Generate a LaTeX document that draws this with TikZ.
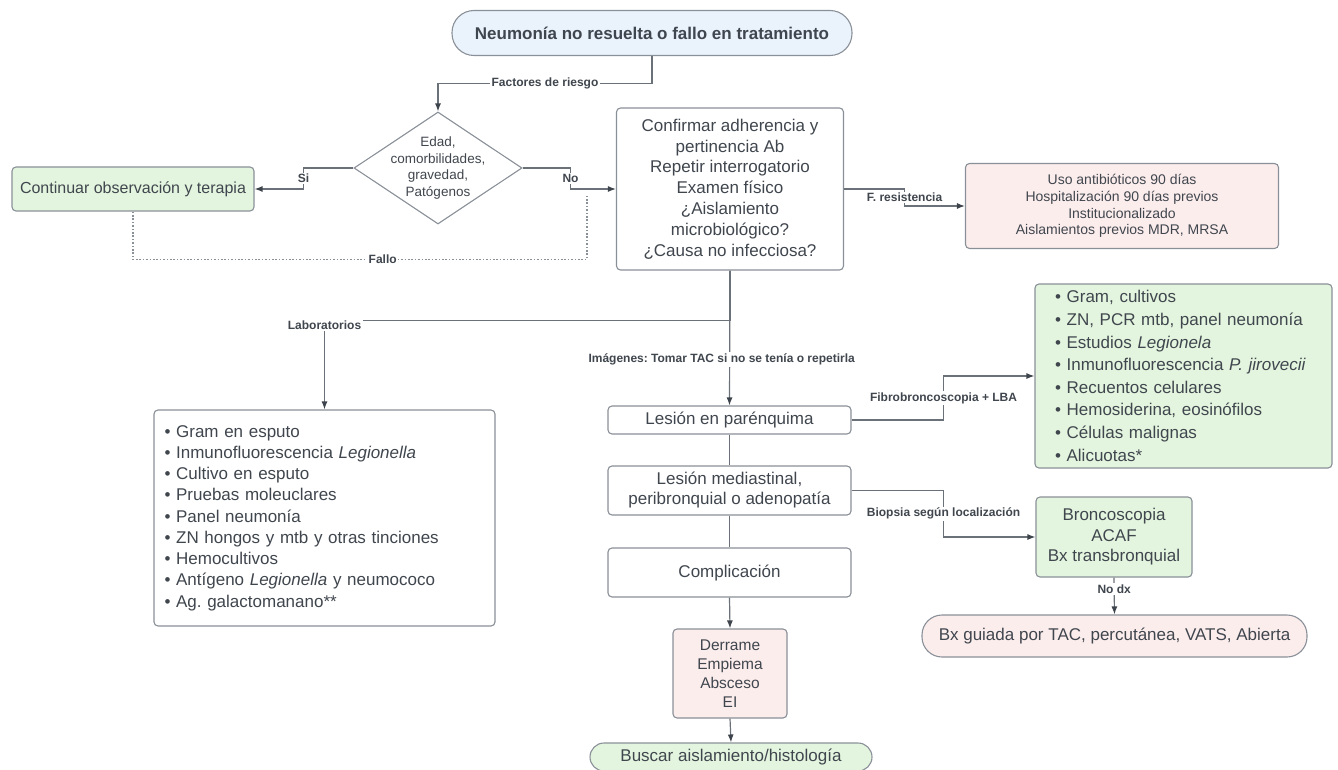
\documentclass[tikz,border=0pt]{standalone}
\usepackage{fontspec}
\setmainfont{Liberation Sans}
\usetikzlibrary{
  arrows.meta,
  positioning,
  shapes.geometric
}
\frenchspacing
\definecolor{lineGray}{HTML}{8A9098}
\definecolor{connGray}{HTML}{6B7178}
\definecolor{tipGray}{HTML}{3E444C}
\definecolor{txtGray}{HTML}{40464E}
\definecolor{startFill}{HTML}{EAF2FC}
\definecolor{okFill}{HTML}{E3F5DE}
\definecolor{riskFill}{HTML}{FCEDED}
\newcommand{\bitem}[1]{\textbullet\ #1}
\tikzset{
  box/.style={
    draw=lineGray,
    fill=#1,
    rounded corners=4pt,
    line width=1.1pt,
    align=center,
    text=txtGray,
    inner sep=0pt,
    font=\fontsize{17}{20.5}\selectfont
  },
  box/.default=white,
  pill/.style={box=#1, rounded corners=14pt},
  pill/.default=white,
  arr/.style={-{Latex[length=8pt,width=6pt,color=tipGray]}, line width=1.2pt, draw=connGray},
  plain/.style={line width=1.2pt, draw=connGray},
  fallback/.style={line width=1.4pt, draw=lineGray, dash pattern=on 1.6pt off 1.8pt},
  lbl/.style={font=\fontsize{12}{14}\selectfont\bfseries, text=txtGray, fill=white, inner sep=1.5pt}
}

\begin{document}
\begin{tikzpicture}[x=1pt, y=-1pt]
\useasboundingbox (0,0) rectangle (1338,770);

% --- Entry and decision ---
\node[pill=startFill, rounded corners=22pt, minimum width=400pt, minimum height=45pt,
      font=\fontsize{17}{20.5}\selectfont\bfseries] (start) at (652,33)
  {Neumonía no resuelta o fallo en tratamiento};

\node[diamond, draw=lineGray, fill=white, line width=1.1pt, inner sep=0pt,
      minimum width=168pt, minimum height=112pt,
      label={[font=\fontsize{13.5}{16.7}\selectfont, text=txtGray, align=center]center:{Edad,\\comorbilidades,\\gravedad,\\Patógenos}}]
  (risk) at (438,168) {};

\node[box=okFill, minimum width=242pt, minimum height=44pt,
      font=\fontsize{16}{19}\selectfont] (cont) at (133,189)
  {Continuar observación y terapia};

\node[box, minimum width=227pt, minimum height=162pt,
      font=\fontsize{17}{20.8}\selectfont] (confirm) at (730,189) {
  Confirmar adherencia y\\
  pertinencia Ab\\
  Repetir interrogatorio\\
  Examen físico\\
  ¿Aislamiento\\
  microbiológico?\\
  ¿Causa no infecciosa?
};

\node[box=riskFill, minimum width=313pt, minimum height=85pt,
      font=\fontsize{14}{16.7}\selectfont] (resist) at (1122,206) {
  Uso antibióticos 90 días\\
  Hospitalización 90 días previos\\
  Institucionalizado\\
  Aislamientos previos MDR, MRSA
};

% --- Work-up ---
\node[box, align=left, text width=320pt, inner xsep=10.5pt, minimum height=216pt,
      font=\fontsize{17}{21.25}\selectfont] (labs) at (324.5,518) {
  \bitem{Gram en esputo}\\
  \bitem{Inmunofluorescencia \textit{Legionella}}\\
  \bitem{Cultivo en esputo}\\
  \bitem{Pruebas moleuclares}\\
  \bitem{Panel neumonía}\\
  \bitem{ZN hongos y mtb y otras tinciones}\\
  \bitem{Hemocultivos}\\
  \bitem{Antígeno \textit{Legionella} y neumococo}\\
  \bitem{Ag. galactomanano**}
};

\node[box, minimum width=243pt, minimum height=28pt] (paren) at (729.5,420)
  {Lesión en parénquima};
\node[box, minimum width=243pt, minimum height=49pt,
      font=\fontsize{17}{20}\selectfont] (medi) at (729.5,490.5)
  {Lesión mediastinal,\\peribronquial o adenopatía};
\node[box, minimum width=243pt, minimum height=49pt] (compl) at (729.5,572.5)
  {Complicación};

\node[box=riskFill, minimum width=114pt, minimum height=89pt,
      font=\fontsize{15.5}{19}\selectfont] (derrame) at (730,673.5)
  {Derrame\\Empiema\\Absceso\\EI};
\node[pill=okFill, minimum width=282pt, minimum height=28pt] (buscar) at (731,757)
  {Buscar aislamiento/histología};

\node[box=okFill, align=left, text width=257pt, inner xsep=20pt, minimum height=184pt,
      font=\fontsize{17}{22.6}\selectfont] (lba) at (1183.5,376) {
  \bitem{Gram, cultivos}\\
  \bitem{ZN, PCR mtb, panel neumonía}\\
  \bitem{Estudios \textit{Legionela}}\\
  \bitem{Inmunofluorescencia \textit{P. jirovecii}}\\
  \bitem{Recuentos celulares}\\
  \bitem{Hemosiderina, eosinófilos}\\
  \bitem{Células malignas}\\
  \bitem{Alicuotas*}
};

\node[box=okFill, minimum width=156pt, minimum height=80pt] (bronco) at (1114,537)
  {Broncoscopia\\ACAF\\Bx transbronquial};
\node[pill=riskFill, rounded corners=20pt, minimum width=385pt, minimum height=42pt]
  (bxpill) at (1114.5,636) {Bx guiada por TAC, percutánea, VATS, Abierta};

% --- Connectors ---
\draw[arr] (start.south) -- ++(0,27.5) -| (risk.north)
  node[lbl, pos=0.25] {Factores de riesgo};
\draw[arr] (risk.west) -- ++(-50,0) |- (cont.east) node[lbl, pos=0.25] {Si};
\draw[arr] (risk.east) -- ++(48,0) |- (confirm.west) node[lbl, pos=0.25] {No};

\coordinate (falloend) at (587,194);
\draw[fallback] (cont.south) -- ++(0,48) -| (falloend)
  node[lbl, pos=0.275] {Fallo};

\draw[arr] (confirm.east) -- ++(60.5,0) |- (resist.west)
  node[lbl, pos=0.25] {F. resistencia};

\draw[arr] (confirm.south) -- ++(0,50) -| (labs.north)
  node[lbl, pos=0.5, yshift=-5pt] {Laboratorios};
\draw[arr] (confirm.south) -- (paren.north)
  node[lbl, pos=0.66, xshift=-8pt] {Imágenes: Tomar TAC si no se tenía o repetirla};

\draw[plain] (paren.south) -- (medi.north);
\draw[plain] (medi.south) -- (compl.north);
\draw[arr] (compl.south) -- (derrame.north);
\draw[arr] (derrame.south) -- (buscar.north);

\draw[arr] (paren.east) -- ++(92,0) |- (lba.west)
  node[lbl, pos=0.25] {Fibrobroncoscopia + LBA};
\draw[arr] (medi.east) -- ++(92,0) |- (bronco.west)
  node[lbl, pos=0.25] {Biopsia según localización};
\draw[arr] (bronco.south) -- (bxpill.north) node[lbl, pos=0.32] {No dx};

\end{tikzpicture}
\end{document}
